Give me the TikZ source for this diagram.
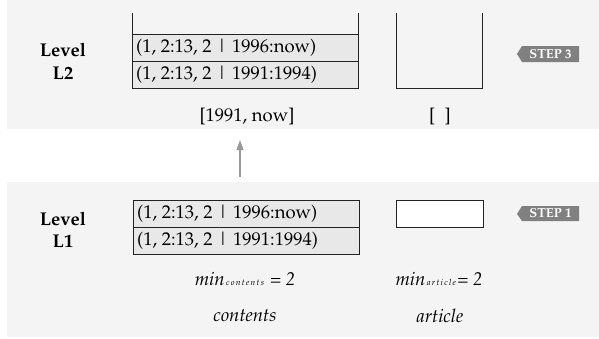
\documentclass[tikz,border=0pt]{standalone}
\usepackage[T1]{fontenc}
\renewcommand{\rmdefault}{ppl}
\usetikzlibrary{arrows.meta}
\definecolor{panelc}{HTML}{F4F4F4}
\definecolor{rowc}{HTML}{E8E8E8}
\definecolor{linec}{HTML}{222222}
\definecolor{tagc}{HTML}{808080}
\definecolor{arrc}{HTML}{999999}
\newcommand\mainsz{\fontsize{18.5}{22}\selectfont}
\newcommand\itsz{\fontsize{18.5}{22}\selectfont}
\newcommand\subsz{\fontsize{8.5}{9}\selectfont}
\newcommand\lsp[1]{\lspX#1\relax}
\def\lspX#1{\ifx#1\relax\else#1\kern1.3pt\expandafter\lspX\fi}
\tikzset{
  panel/.style={fill=panelc},
  boxline/.style={draw=linec, line width=1pt},
  rowbox/.style={draw=linec, line width=1pt, fill=rowc, minimum width=226pt, minimum height=27pt, inner sep=0pt, outer sep=0pt, anchor=north west},
  rowtext/.style={font=\mainsz, anchor=west, inner sep=0pt},
  leveltext/.style={font=\mainsz\bfseries, align=center, inner sep=0pt},
  plaintext/.style={font=\mainsz, inner sep=0pt},
  ittext/.style={font=\itsz\itshape, inner sep=0pt},
  tagtext/.style={font=\fontsize{13}{14}\selectfont\bfseries, text=white, inner sep=0pt},
  tagshape/.style={fill=tagc},
  uparrow/.style={draw=arrc, line width=1.2pt, -{Triangle[length=10pt,width=7pt]}}
}
\begin{document}
\begin{tikzpicture}[x=1pt,y=-1pt]
\useasboundingbox (0,0) rectangle (599,338);
% panels
\fill[panel] (7,0) rectangle (599,129);
\fill[panel] (7,182) rectangle (599,337);

% ---------- Level L2 ----------
\node[leveltext] (lvl2a) at (63,50) {Level};
\node[leveltext] (lvl2b) at (63,73) {L2};
\node[rowbox] (t1) at (132,34) {};
\node[rowbox] (t2) at (132,61) {};
\draw[boxline] (t1.north west) -- ++(0,-21);
\draw[boxline] (t1.north east) -- ++(0,-21);
\node[rowtext] (t1txt) at (136,48) {(1, 2:13, 2 \textbar{} 1996:now)};
\node[rowtext] (t2txt) at (136,75) {(1, 2:13, 2 \textbar{} 1991:1994)};
\draw[boxline] (396,13) -- (396,88) -- (482,88) -- (482,13);
\node[plaintext] (rng2) at (247,117) {[1991, now]};
\node[plaintext] (emp2) at (440,117) {[\,\,\,]};
% tag step 3
\fill[tagshape] (517,54) -- (522,46) -- (579,46) -- (579,62) -- (522,62) -- cycle;
\node[tagtext] (step3) at (550.5,54) {STEP 3};

% arrow
\coordinate (afrom) at (240,177);
\coordinate (ato) at (240,140);
\draw[uparrow] (afrom) -- (ato);

% ---------- Level L1 ----------
\node[leveltext] (lvl1a) at (63,219) {Level};
\node[leveltext] (lvl1b) at (63,241) {L1};
\node[rowbox] (b1) at (133,200) {};
\node[rowbox] (b2) at (133,227.5) {};
\node[rowtext] (b1txt) at (137,214) {(1, 2:13, 2 \textbar{} 1996:now)};
\node[rowtext] (b2txt) at (137,241) {(1, 2:13, 2 \textbar{} 1991:1994)};
\node[draw=linec, line width=1pt, fill=white, minimum width=87pt, minimum height=27pt, inner sep=0pt, anchor=north west] (art) at (396,200) {};
% tag step 1
\fill[tagshape] (517,214) -- (522,206) -- (579,206) -- (579,221) -- (522,221) -- cycle;
\node[tagtext] (step1) at (550.5,213.5) {STEP 1};

\node[ittext] (minc) at (245,279) {min{\subsz\,\lsp{contents}} = 2};
\node[ittext] (mina) at (439,279) {min{\subsz\,\lsp{article}}= 2};
\node[ittext] (lblc) at (245,316) {contents};
\node[ittext] (lbla) at (440,316) {article};
\end{tikzpicture}
\end{document}
